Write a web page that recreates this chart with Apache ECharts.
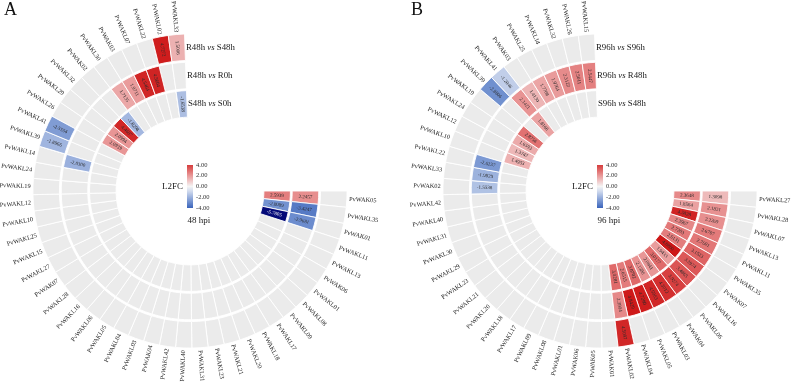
<!DOCTYPE html>
<html><head><meta charset="utf-8">
<script src="https://cdn.jsdelivr.net/npm/echarts@6/dist/echarts.min.js"></script>
<style>html,body{margin:0;padding:0;background:#fff}#c{width:794px;height:382px}</style>
</head><body><div id="c"></div>
<script>
const N = null;
// genes, clockwise from 3 o'clock
const genesA = ['PvWAK05','PvWAKL35','PvWAK01','PvWAKL11','PvWAKL13','PvWAK06','PvWAKL01','PvWAKL08','PvWAKL09','PvWAKL17','PvWAKL18','PvWAKL20','PvWAKL21','PvWAKL23','PvWAKL31','PvWAKL40','PvWAKL42','PvWAK04','PvWAKL03','PvWAKL04','PvWAKL05','PvWAKL06','PvWAKL16','PvWAKL28','PvWAK07','PvWAKL27','PvWAKL15','PvWAKL25','PvWAKL10','PvWAKL12','PvWAKL19','PvWAKL24','PvWAKL14','PvWAKL39','PvWAKL41','PvWAKL26','PvWAKL29','PvWAKL32','PvWAK02','PvWAKL30','PvWAK03','PvWAKL07','PvWAKL22','PvWAKL02','PvWAKL33'];
const genesB = ['PvWAKL27','PvWAKL28','PvWAKL07','PvWAKL13','PvWAKL11','PvWAKL35','PvWAK07','PvWAKL16','PvWAKL06','PvWAK04','PvWAKL03','PvWAKL05','PvWAKL04','PvWAKL02','PvWAK01','PvWAK05','PvWAK06','PvWAKL01','PvWAKL08','PvWAKL09','PvWAKL17','PvWAKL18','PvWAKL20','PvWAKL21','PvWAKL23','PvWAKL29','PvWAKL30','PvWAKL31','PvWAKL40','PvWAKL42','PvWAK02','PvWAKL33','PvWAKL22','PvWAKL10','PvWAKL12','PvWAKL24','PvWAKL19','PvWAKL39','PvWAKL41','PvWAK03','PvWAKL25','PvWAKL14','PvWAKL32','PvWAKL26','PvWAKL15'];

// tracks, inner -> outer
const tracksA = ['S48h vs S0h', 'R48h vs R0h', 'R48h vs S48h'];
const tracksB = ['S96h vs S48h', 'R96h vs R48h', 'R96h vs S96h'];

// 48 hpi values (L2FC), one per gene in genesA order
const A_inner = [2.5939,-2.8089,-5.7805,
  N,N,N,N,N,N,N,N, N,N,N,N,N,N,N,N, N,N,N,N,N,N,N,N, N,N,N,N,N,N,N,N,
  2.0939,2.0994,4.4687,-1.8298, N,N,N,N,N, -1.6538];
const A_middle = [2.2457,-3.4247,-2.9681,
  N,N,N,N,N,N,N,N, N,N,N,N,N,N,N,N, N,N,N,N,N,N,N,N, N,N,N,N,N,
  -2.0300, N,N,N,N,N,N, 1.7135,1.9711,4.5464,4.5604, N,N];
const A_outer = [N,N,N,N,N,N,N,N, N,N,N,N,N,N,N,N, N,N,N,N,N,N,N,N, N,N,N,N,N,N,N,N, N,
  -1.8966,-2.5554, N,N,N,N,N,N,N,N, 4.7272,1.5006];

// 96 hpi values (L2FC), one per gene in genesB order
const B_inner = [2.3648,1.8564,4.5828,2.3967,2.7203,2.6131,4.8800,1.9433,3.0177,2.0841,2.1386,3.0702,2.6515,3.0281,
  N,N,N,N,N,N,N,N, N,N,N,N,N,N,N,N, N,N,N,
  1.4953,1.3747,1.6593,2.8756, N, 1.8166, N,N,N,N,N,N];
const B_middle = [1.3098,2.1831,2.2269,2.6707,2.7601,3.1523,3.3974,3.4865,3.9274,4.3012,4.5063,4.7290,4.8429,2.3904,
  N,N,N,N,N,N,N,N, N,N,N,N,N,N,N,N,
  -1.5538,-1.9829,-2.6237, N,N,N,N,N, 2.1421,1.4130,1.7708,1.9764,2.3122,2.5011,2.5447];
const B_outer = [N,N,N,N,N,N,N,N, N,N,N,N,N, 4.5097,
  N,N,N,N,N,N,N,N, N,N,N,N,N,N,N,N, N,N,N,N,N,N,N,
  -2.8806,-1.2046, N,N,N,N,N,N];

const legendTicks = [4, 2, 0, -2, -4];
const panelLabels = ['A', 'B'];
const hpiLabels = ['48 hpi', '96 hpi'];

// colour ramp for -6 .. 6 (one stop per unit)
const rampColors = ['#00006E','#14289A','#3A63BA','#6A8BCD','#9BB1DD','#CBD6EC','#F5F5F5','#F0C8C8','#E99A9A','#E06B6B','#D63C3C','#CC1212','#B50000'];

const FONT = '"Liberation Serif", "Times New Roman", serif';
const GREY = '#EBEBEB';
const ANG_MAX = 45 * 360 / 268;
const INSET = 0.9;

function cellGeom(api, i, j) {
  const p0 = api.coord([j, i]);
  const p1 = api.coord([j + 1, i + 1]);
  return {r0: p0[2] + INSET, r: p1[2] - INSET, a0: p0[3], a1: p1[3]};
}
function sectorShape(cs, g) {
  return {cx: cs.cx, cy: cs.cy, r0: g.r0, r: g.r, startAngle: -g.a0, endAngle: -g.a1, clockwise: true};
}
function renderGrey(params, api) {
  const g = cellGeom(api, api.value(0), api.value(1));
  return {type: 'sector', shape: sectorShape(params.coordSys, g),
    style: {fill: GREY, stroke: '#fff', lineWidth: 0.9}, silent: true};
}
function renderColored(params, api) {
  const i = api.value(0), j = api.value(1), v = api.value(2);
  const g = cellGeom(api, i, j);
  const mid = api.coord([j + 0.5, i + 0.5]);
  const am = mid[3];
  const right = Math.cos(am) >= 0;
  return {type: 'group', children: [
    {type: 'sector', shape: sectorShape(params.coordSys, g),
      style: {fill: api.visual('color'), stroke: '#fff', lineWidth: 0.9}},
    {type: 'text', x: mid[0], y: mid[1], rotation: right ? am : am - Math.PI,
      style: {text: v.toFixed(4), fill: v < -4.5 ? '#fff' : '#2a2a2a', fontSize: 5, fontFamily: FONT,
        align: 'center', verticalAlign: 'middle', textAlign: 'center', textVerticalAlign: 'middle'}}
  ]};
}
function makeGeneRender(genes) {
  return function (params, api) {
    const i = api.value(0);
    const p = api.coord([3.05, i + 0.5]);
    const am = p[3];
    const right = Math.cos(am) >= 0;
    const al = right ? 'left' : 'right';
    return {type: 'text', x: p[0], y: p[1], rotation: right ? am : am - Math.PI,
      style: {text: genes[params.dataIndex], fill: '#1a1a1a', fontSize: 6.3, fontFamily: FONT,
        align: al, verticalAlign: 'middle', textAlign: al, textVerticalAlign: 'middle'}};
  };
}
function makeTrackRender(tracks) {
  return function (params, api) {
    const j = api.value(0);
    const p = api.coord([j + 0.5, 45]);
    const txt = tracks[params.dataIndex].split(' vs ').map(s => '{n|' + s + '}').join('{n| }{i|vs}{n| }');
    return {type: 'text', x: p[0] + 1, y: p[1],
      style: {text: txt, align: 'left', verticalAlign: 'middle', textAlign: 'left', textVerticalAlign: 'middle',
        rich: {n: {fontSize: 8.8, fontFamily: FONT, fill: '#1a1a1a'},
               i: {fontSize: 8.8, fontFamily: FONT, fontStyle: 'italic', fill: '#1a1a1a'}}}};
  };
}

function greyData(n) { const d = []; for (let j = 0; j < 3; j++) for (let i = 0; i < n; i++) d.push([i, j]); return d; }
function colorData(rings) {
  const d = [];
  rings.forEach((arr, j) => arr.forEach((v, i) => { if (v !== null) d.push([i, j, v]); }));
  return d;
}

const centers = [[190, 191], [600, 191]];
const series = [];
[[genesA, tracksA, [A_inner, A_middle, A_outer]], [genesB, tracksB, [B_inner, B_middle, B_outer]]].forEach((cfg, k) => {
  const [genes, tracks, rings] = cfg;
  series.push({type: 'custom', coordinateSystem: 'polar', polarIndex: k, renderItem: renderGrey,
    encode: {angle: 0, radius: 1}, data: greyData(genes.length), silent: true, z: 1});
  series.push({type: 'custom', coordinateSystem: 'polar', polarIndex: k, renderItem: renderColored,
    encode: {angle: 0, radius: 1}, data: colorData(rings), z: 2});
  series.push({type: 'custom', coordinateSystem: 'polar', polarIndex: k, renderItem: makeGeneRender(genes),
    encode: {angle: 0}, data: genes.map((g, i) => [i]), silent: true, z: 3});
  series.push({type: 'custom', coordinateSystem: 'polar', polarIndex: k, renderItem: makeTrackRender(tracks),
    encode: {radius: 0}, data: tracks.map((t, j) => [j]), silent: true, z: 3});
});

// legend graphics
const legendStops = [];
for (let t = 4, s = 0; t >= -4; t--, s++) legendStops.push({offset: s / 8, color: rampColors[t + 6]});
const graphic = [];
centers.forEach((c, k) => {
  const bx = c[0] - 3, by = 165, bh = 43;
  graphic.push({type: 'rect', left: bx, top: by, shape: {width: 6, height: bh},
    style: {fill: {type: 'linear', x: 0, y: 0, x2: 0, y2: 1, colorStops: legendStops}}});
  legendTicks.forEach(t => {
    graphic.push({type: 'text', x: bx + 9, y: by + (4 - t) / 8 * bh,
      style: {text: t.toFixed(2), fontSize: 6.5, fontFamily: FONT, fill: '#333', align: 'left', verticalAlign: 'middle', textAlign: 'left', textVerticalAlign: 'middle'}});
  });
  graphic.push({type: 'text', x: bx - 4, y: by + bh / 2,
    style: {text: 'L2FC', fontSize: 9, fontFamily: FONT, fill: '#1a1a1a', align: 'right', verticalAlign: 'middle', textAlign: 'right', textVerticalAlign: 'middle'}});
  graphic.push({type: 'text', x: c[0] + 9, y: 221,
    style: {text: hpiLabels[k], fontSize: 9, fontFamily: FONT, fill: '#1a1a1a', align: 'center', verticalAlign: 'middle', textAlign: 'center', textVerticalAlign: 'middle'}});
  graphic.push({type: 'text', x: k === 0 ? 4 : 411, y: 1,
    style: {text: panelLabels[k], fontSize: 18, fontFamily: FONT, fill: '#111', align: 'left', verticalAlign: 'top', textAlign: 'left', textVerticalAlign: 'top'}});
});

const chart = echarts.init(document.getElementById('c'), null, {renderer: 'canvas'});
chart.setOption({
  animation: false,
  backgroundColor: '#fff',
  polar: centers.map(c => ({center: c, radius: [73, 158]})),
  angleAxis: centers.map((c, k) => ({polarIndex: k, type: 'value', min: 0, max: ANG_MAX, startAngle: 0, clockwise: true,
    show: false, axisLine: {show: false}, axisTick: {show: false}, axisLabel: {show: false}, splitLine: {show: false}})),
  radiusAxis: centers.map((c, k) => ({polarIndex: k, type: 'value', min: 0, max: 3,
    show: false, axisLine: {show: false}, axisTick: {show: false}, axisLabel: {show: false}, splitLine: {show: false}})),
  visualMap: {type: 'continuous', show: false, min: -6, max: 6, dimension: 2, seriesIndex: [1, 5],
    inRange: {color: rampColors}},
  graphic: graphic,
  series: series
});
</script></body></html>
